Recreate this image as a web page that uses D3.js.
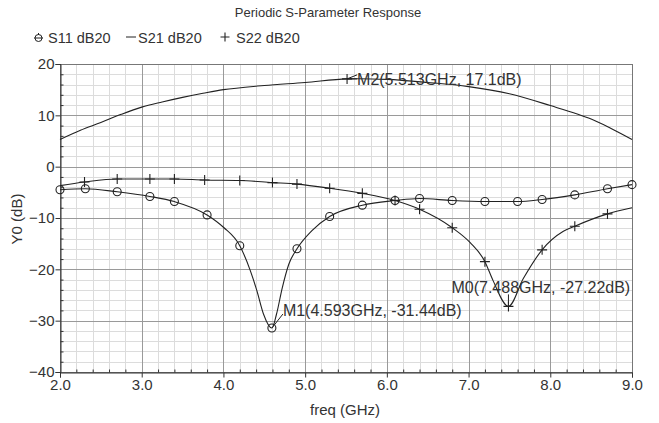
<!DOCTYPE html>
<html><head><meta charset="utf-8">
<script src="https://cdn.jsdelivr.net/npm/d3@7"></script>
<style>
html,body{margin:0;padding:0;background:#fff;}
svg{display:block;font-family:"Liberation Sans",Arial,sans-serif;}
</style></head>
<body><svg id="c" width="659" height="423"></svg>
<script>
const titleText = "Periodic S-Parameter Response";
const legendLabels = ["S11 dB20", "S21 dB20", "S22 dB20"];
const xTicks = [2, 3, 4, 5, 6, 7, 8, 9];
const yTicks = [-40, -30, -20, -10, 0, 10, 20];

const s21Freq = [2.0, 2.25, 2.5, 2.75, 3.0, 3.25, 3.5, 3.75, 4.0, 4.5, 5.0, 5.513, 6.0, 6.5, 7.0, 7.5, 8.0, 8.5, 8.75, 9.0];
const s21Val  = [5.3, 7.1, 8.6, 10.2, 11.6, 12.6, 13.5, 14.3, 15.0, 15.8, 16.4, 17.1, 17.0, 16.4, 15.6, 14.2, 11.9, 9.3, 7.4, 5.3];

const s11Freq = [2.0, 2.31, 2.7, 3.1, 3.4, 3.8, 4.0, 4.2, 4.33, 4.41, 4.49, 4.593, 4.65, 4.72, 4.80, 4.9, 5.08, 5.3, 5.7, 6.1, 6.4, 6.8, 7.2, 7.6, 7.9, 8.3, 8.7, 9.0];
const s11Val  = [-4.5, -4.3, -4.9, -5.8, -6.8, -9.4, -11.8, -15.4, -20.3, -24.2, -28.7, -31.44, -28.7, -23.6, -19.0, -16.0, -12.5, -9.7, -7.5, -6.6, -6.2, -6.6, -6.8, -6.8, -6.4, -5.5, -4.3, -3.5];
const s11MarkFreq = [2.0, 2.31, 2.7, 3.1, 3.4, 3.8, 4.2, 4.593, 4.9, 5.3, 5.7, 6.1, 6.4, 6.8, 7.2, 7.6, 7.9, 8.3, 8.7, 9.0];

const s22Freq = [2.0, 2.3, 2.7, 3.1, 3.4, 3.77, 4.2, 4.6, 4.9, 5.3, 5.7, 6.1, 6.4, 6.8, 7.02, 7.2, 7.30, 7.488, 7.67, 7.9, 8.16, 8.3, 8.7, 9.0];
const s22Val  = [-3.7, -3.0, -2.4, -2.4, -2.4, -2.6, -2.7, -3.1, -3.4, -4.2, -5.2, -6.6, -8.3, -11.9, -14.8, -18.5, -22.2, -27.22, -21.8, -16.2, -12.6, -11.6, -9.2, -8.0];
const s22MarkFreq = [2.3, 2.7, 3.1, 3.4, 3.77, 4.2, 4.6, 4.9, 5.3, 5.7, 6.1, 6.4, 6.8, 7.2, 7.488, 7.9, 8.3, 8.7];

const markerNames = ["M1", "M0", "M2"];
const markerFreq = [4.593, 7.488, 5.513];
const markerVal = [-31.44, -27.22, 17.1];
const markerText = ["M1(4.593GHz, -31.44dB)", "M0(7.488GHz, -27.22dB)", "M2(5.513GHz, 17.1dB)"];

const svg = d3.select("#c");
const x = d3.scaleLinear().domain([2, 9]).range([60, 632]);
const y = d3.scaleLinear().domain([-40, 20]).range([372, 64]);
const ink = "#222";

// grid
const xMinor = d3.range(2, 9.001, 0.2);
const yMinor = d3.range(-40, 20.001, 2);
const g = svg.append("g");
g.selectAll(".vm").data(xMinor).join("line")
  .attr("x1", d => Math.round(x(d)) + 0.5).attr("x2", d => Math.round(x(d)) + 0.5)
  .attr("y1", y(20)).attr("y2", y(-40)).attr("stroke", "#dcdcdc");
g.selectAll(".hm").data(yMinor).join("line")
  .attr("y1", d => Math.round(y(d)) + 0.5).attr("y2", d => Math.round(y(d)) + 0.5)
  .attr("x1", x(2)).attr("x2", x(9)).attr("stroke", "#dcdcdc");
g.selectAll(".vM").data(xTicks).join("line")
  .attr("x1", d => Math.round(x(d)) + 0.5).attr("x2", d => Math.round(x(d)) + 0.5)
  .attr("y1", y(20)).attr("y2", y(-40)).attr("stroke", "#9a9a9a");
g.selectAll(".hM").data(yTicks).join("line")
  .attr("y1", d => Math.round(y(d)) + 0.5).attr("y2", d => Math.round(y(d)) + 0.5)
  .attr("x1", x(2)).attr("x2", x(9)).attr("stroke", "#9a9a9a");
// frame
svg.append("rect").attr("x", Math.round(x(2)) + 0.5).attr("y", Math.round(y(20)) + 0.5)
  .attr("width", Math.round(x(9)) - Math.round(x(2))).attr("height", Math.round(y(-40)) - Math.round(y(20)))
  .attr("fill", "none").attr("stroke", "#777");

// axes
const xAxis = d3.axisBottom(x).tickValues(xTicks).tickFormat(d3.format(".1f")).tickSize(5).tickPadding(2);
const xa = svg.append("g").attr("transform", `translate(0,${Math.round(y(-40)) + 0.5})`).call(xAxis);
const yAxis = d3.axisLeft(y).tickValues(yTicks).tickFormat(d3.format("d")).tickSize(5).tickPadding(1);
const ya = svg.append("g").attr("transform", `translate(${Math.round(x(2)) + 0.5},0)`).call(yAxis);
[xa, ya].forEach(a => {
  a.select(".domain").attr("stroke", "#333");
  a.selectAll(".tick line").attr("stroke", "#333");
  a.selectAll("text").attr("font-size", 15).attr("fill", "#333").attr("font-family", "Liberation Sans, Arial, sans-serif");
});
// minor ticks (inward)
const xMinorAxis = d3.axisTop(x).tickValues(xMinor.filter(d => Math.abs(d - Math.round(d)) > 0.01)).tickSize(3).tickFormat("");
svg.append("g").attr("transform", `translate(0,${Math.round(y(-40)) + 0.5})`).call(xMinorAxis)
  .call(s => { s.select(".domain").remove(); s.selectAll("line").attr("stroke", "#333"); });
const yMinorAxis = d3.axisRight(y).tickValues(yMinor.filter(d => d % 10 !== 0)).tickSize(3).tickFormat("");
svg.append("g").attr("transform", `translate(${Math.round(x(2)) + 0.5},0)`).call(yMinorAxis)
  .call(s => { s.select(".domain").remove(); s.selectAll("line").attr("stroke", "#333"); });

// labels
svg.append("text").attr("x", 328).attr("y", 17).attr("text-anchor", "middle")
  .attr("font-size", 13).attr("fill", "#333").text(titleText);
svg.append("text").attr("x", 345).attr("y", 415).attr("text-anchor", "middle")
  .attr("font-size", 15).attr("fill", "#333").text("freq (GHz)");
svg.append("text").attr("transform", `translate(22,${219}) rotate(-90)`).attr("text-anchor", "middle")
  .attr("font-size", 15).attr("fill", "#333").text("Y0 (dB)");

// lines
const line = d3.line().x(d => x(d[0])).y(d => y(d[1])).curve(d3.curveMonotoneX);
const smooth = d3.line().x(d => x(d[0])).y(d => y(d[1])).curve(d3.curveCatmullRom.alpha(0.5));
const plot = svg.append("g");
plot.append("path").attr("d", smooth(d3.zip(s21Freq, s21Val))).attr("fill", "none").attr("stroke", ink).attr("stroke-width", 1.1);
plot.append("path").attr("d", line(d3.zip(s11Freq, s11Val))).attr("fill", "none").attr("stroke", ink).attr("stroke-width", 1.1);
plot.append("path").attr("d", line(d3.zip(s22Freq, s22Val))).attr("fill", "none").attr("stroke", ink).attr("stroke-width", 1.1);

// markers
const s11Lookup = new Map(s11Freq.map((f, i) => [f, s11Val[i]]));
const s22Lookup = new Map(s22Freq.map((f, i) => [f, s22Val[i]]));
plot.selectAll(".c11").data(s11MarkFreq).join("circle")
  .attr("cx", d => x(d)).attr("cy", d => y(s11Lookup.get(d))).attr("r", 4)
  .attr("fill", "none").attr("stroke", ink).attr("stroke-width", 1.1);
function plus(sel, cx, cy, s) {
  sel.append("path").attr("d", `M${cx - s},${cy}H${cx + s}M${cx},${cy - s}V${cy + s}`)
    .attr("stroke", ink).attr("stroke-width", 1.1).attr("fill", "none");
}
s22MarkFreq.forEach(f => plus(plot, x(f), y(s22Lookup.get(f)), 5));
// M2 point marker on S21
plus(plot, x(markerFreq[2]), y(markerVal[2]), 5);

// marker labels
const mk = svg.append("g").attr("font-size", 16).attr("fill", "#333");
// M1
{
  const px = x(markerFreq[0]), py = y(markerVal[0]);
  mk.append("line").attr("x1", px).attr("y1", py).attr("x2", px + 11).attr("y2", py - 14).attr("stroke", ink);
  mk.append("text").attr("x", px + 11).attr("y", py - 12).text(markerText[0]);
}
// M0
{
  const px = x(markerFreq[1]), py = y(markerVal[1]);
  mk.append("line").attr("x1", px).attr("y1", py).attr("x2", px).attr("y2", py - 12).attr("stroke", ink);
  mk.append("text").attr("x", px - 57).attr("y", py - 13).text(markerText[1]);
}
// M2
{
  const px = x(markerFreq[2]), py = y(markerVal[2]);
  mk.append("path").attr("d", `M${px},${py}L${px + 10},${py - 4}M${px},${py}L${px + 10},${py}`).attr("stroke", ink).attr("fill", "none");
  mk.append("text").attr("x", px + 10).attr("y", py + 6).text(markerText[2]);
}

// legend
const lg = svg.append("g").attr("font-size", 14.5).attr("fill", "#333");
const ly = 38;
lg.append("circle").attr("cx", 38.5).attr("cy", ly).attr("r", 3.5).attr("fill", "none").attr("stroke", ink);
lg.append("path").attr("d", `M34,${ly}H43M38.5,${ly - 5}V${ly - 3}`).attr("stroke", ink);
lg.append("text").attr("x", 48).attr("y", ly + 5).text(legendLabels[0]);
lg.append("line").attr("x1", 126).attr("x2", 136).attr("y1", ly - 1).attr("y2", ly - 1).attr("stroke", ink);
lg.append("text").attr("x", 138).attr("y", ly + 5).text(legendLabels[1]);
plus(lg, 225, ly - 1, 4.5);
lg.append("text").attr("x", 236).attr("y", ly + 5).text(legendLabels[2]);
</script></body></html>
